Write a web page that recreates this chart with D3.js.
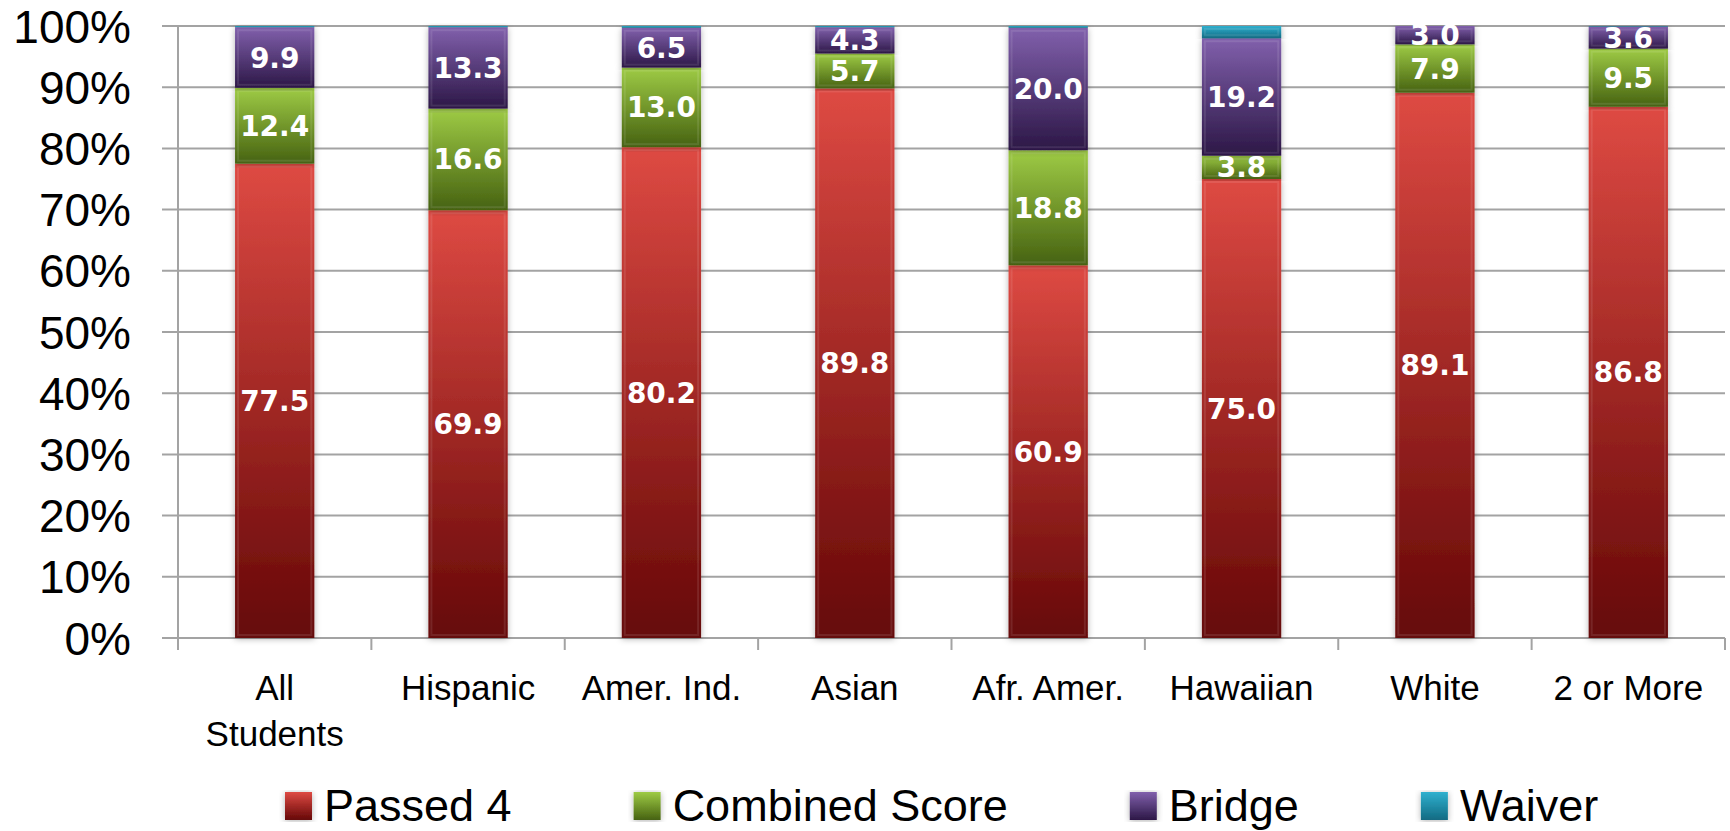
<!DOCTYPE html>
<html>
<head>
<meta charset="utf-8">
<script src="https://cdn.jsdelivr.net/npm/d3@7"></script>
<style>
  body { margin: 0; background: #fff; }
  svg { display: block; }
</style>
</head>
<body>
<div id="chart"></div>
<script>
/* ── Data ─────────────────────────────────────────────── */
const categories = ['All Students', 'Hispanic', 'Amer. Ind.', 'Asian', 'Afr. Amer.', 'Hawaiian', 'White', '2 or More'];
const tickLabels = [['All', 'Students'], ['Hispanic'], ['Amer. Ind.'], ['Asian'], ['Afr. Amer.'], ['Hawaiian'], ['White'], ['2 or More']];
const seriesNames = ['Passed 4', 'Combined Score', 'Bridge', 'Waiver'];
const passed4 = [77.5, 69.9, 80.2, 89.8, 60.9, 75.0, 89.1, 86.8];
const combinedScore = [12.4, 16.6, 13.0, 5.7, 18.8, 3.8, 7.9, 9.5];
const bridge = [9.9, 13.3, 6.5, 4.3, 20.0, 19.2, 3.0, 3.6];
const waiver = [0.2, 0.2, 0.3, 0.2, 0.3, 2.0, 0.0, 0.1];
const yTicks = [0, 10, 20, 30, 40, 50, 60, 70, 80, 90, 100];

/* ── Colours (top / bottom of each segment gradient) ─── */
const COLORS = {
  'Passed 4':       ['#de4a43', '#650707'],
  'Combined Score': ['#9ecb45', '#466211'],
  'Bridge':         ['#8160ac', '#2c1746'],
  'Waiver':         ['#2fb0cf', '#126a82'],
};
const labelled = ['Passed 4', 'Combined Score', 'Bridge'];

/* ── Layout ───────────────────────────────────────────── */
const W = 1730, H = 831;
const plot = { left: 178, right: 1725, top: 26, bottom: 638 };

const rows = categories.map((c, i) => ({
  category: c,
  'Passed 4': passed4[i],
  'Combined Score': combinedScore[i],
  'Bridge': bridge[i],
  'Waiver': waiver[i],
}));
const stacked = d3.stack().keys(seriesNames)(rows);

const x = d3.scaleBand().domain(categories).range([plot.left, plot.right]).paddingInner(0.59).paddingOuter(0.295);
const xb = d3.scaleBand().domain(categories).range([plot.left, plot.right]);
const y = d3.scaleLinear().domain([0, 100]).range([plot.bottom, plot.top]);

const svg = d3.select('#chart').append('svg')
  .attr('width', W).attr('height', H)
  .attr('font-family', 'Liberation Sans, Arial, sans-serif');

const defs = svg.append('defs');
seriesNames.forEach((s, i) => {
  const g = defs.append('linearGradient')
    .attr('id', 'grad' + i).attr('x1', 0).attr('y1', 0).attr('x2', 0).attr('y2', 1);
  g.append('stop').attr('offset', '0%').attr('stop-color', COLORS[s][0]);
  g.append('stop').attr('offset', '100%').attr('stop-color', COLORS[s][1]);
});
defs.append('filter').attr('id', 'shadow')
  .attr('x', '-20%').attr('y', '-5%').attr('width', '140%').attr('height', '110%')
  .append('feDropShadow')
  .attr('dx', 0).attr('dy', 1).attr('stdDeviation', 3)
  .attr('flood-color', '#000').attr('flood-opacity', 0.3);

// gridlines + y ticks
const grid = svg.append('g');
grid.selectAll('line').data(yTicks).join('line')
  .attr('x1', plot.left - 16).attr('x2', plot.right)
  .attr('y1', d => y(d)).attr('y2', d => y(d))
  .attr('stroke', '#a3a3a3').attr('stroke-width', 2);

svg.append('line')
  .attr('x1', plot.left).attr('x2', plot.left)
  .attr('y1', y(100)).attr('y2', y(0) + 12)
  .attr('stroke', '#a3a3a3').attr('stroke-width', 2);

// category tick marks on band edges
const edges = categories.map(c => xb(c) + xb.bandwidth()).concat([plot.left]);
svg.append('g').selectAll('line').data(edges).join('line')
  .attr('x1', d => d).attr('x2', d => d)
  .attr('y1', y(0)).attr('y2', y(0) + 12)
  .attr('stroke', '#a3a3a3').attr('stroke-width', 2);

svg.append('g').selectAll('text').data(yTicks).join('text')
  .attr('x', 131).attr('y', d => y(d))
  .attr('dy', '0.36em')
  .attr('text-anchor', 'end')
  .attr('font-size', 46)
  .attr('fill', '#000')
  .text(d => d + '%');

// bars
const layers = svg.append('g').selectAll('g').data(stacked).join('g')
  .attr('fill', (d, i) => 'url(#grad' + i + ')');

layers.selectAll('rect').data(d => d.filter(p => p[1] - p[0] > 0)).join('rect')
  .attr('x', d => x(d.data.category))
  .attr('width', x.bandwidth())
  .attr('y', d => y(d[1]))
  .attr('height', d => y(d[0]) - y(d[1]))
  .attr('filter', 'url(#shadow)');

// soft bevel: inner highlight on each segment
layers.selectAll('rect.bevel').data(d => d.filter(p => y(p[0]) - y(p[1]) > 8)).join('rect')
  .attr('class', 'bevel')
  .attr('x', d => x(d.data.category) + 3)
  .attr('width', x.bandwidth() - 6)
  .attr('y', d => y(d[1]) + 3)
  .attr('height', d => y(d[0]) - y(d[1]) - 6)
  .attr('fill', 'none')
  .attr('stroke', '#fff').attr('stroke-opacity', 0.1).attr('stroke-width', 2);

// value labels
stacked.filter(s => labelled.includes(s.key)).forEach(s => {
  svg.append('g').selectAll('text').data(s).join('text')
    .attr('x', d => x(d.data.category) + x.bandwidth() / 2)
    .attr('y', d => (y(d[0]) + y(d[1])) / 2)
    .attr('dy', '0.36em')
    .attr('text-anchor', 'middle')
    .attr('font-family', 'DejaVu Sans, Verdana, sans-serif')
    .attr('font-weight', 'bold')
    .attr('font-size', 28)
    .attr('fill', '#fff')
    .text(d => d3.format('.1f')(d[1] - d[0]));
});

// x labels
const xl = svg.append('g').selectAll('text').data(categories).join('text')
  .attr('x', d => xb(d) + xb.bandwidth() / 2)
  .attr('y', 700)
  .attr('text-anchor', 'middle')
  .attr('font-size', 35)
  .attr('fill', '#000');
xl.each(function (d, i) {
  d3.select(this).selectAll('tspan').data(tickLabels[i]).join('tspan')
    .attr('x', xb(d) + xb.bandwidth() / 2)
    .attr('dy', (t, j) => j === 0 ? 0 : 46)
    .text(t => t);
});

// legend
const legend = svg.append('g');
let lx = 285;
seriesNames.forEach((s, i) => {
  legend.append('rect')
    .attr('x', lx).attr('y', 792).attr('width', 27).attr('height', 28)
    .attr('fill', 'url(#grad' + i + ')')
    .attr('filter', 'url(#shadow)');
  const t = legend.append('text')
    .attr('x', lx + 39).attr('y', 821)
    .attr('font-size', 45)
    .attr('fill', '#000')
    .text(s);
  lx += 39 + t.node().getComputedTextLength() + 122;
});
</script>
</body>
</html>
